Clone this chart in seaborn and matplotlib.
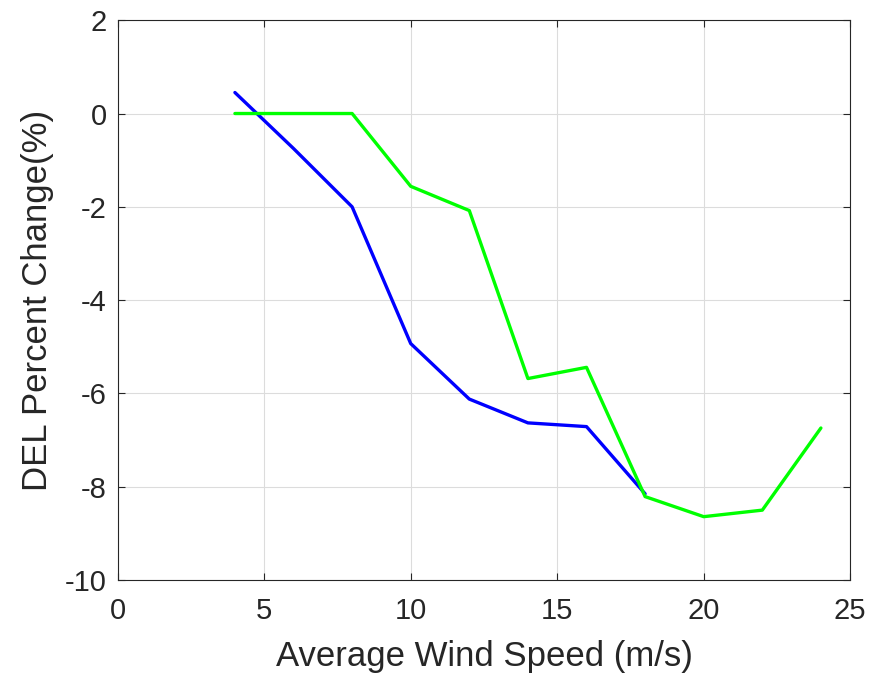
import numpy as np
import pandas as pd
import seaborn as sns
from matplotlib import pyplot as plt

sns.set_style("white")
plt.rcParams['font.family'] = ['Liberation Sans', 'DejaVu Sans']
plt.rcParams['axes.unicode_minus'] = False

# wind speed (m/s) and DEL percent change (%)
speed_blue = [4, 6, 8, 10, 12, 14, 16, 18]
del_blue = [0.45, -0.75, -2.0, -4.93, -6.12, -6.63, -6.71, -8.15]

speed_green = [4, 6, 8, 10, 12, 14, 16, 18, 20, 22, 24]
del_green = [0.0, 0.0, 0.0, -1.56, -2.08, -5.68, -5.44, -8.21, -8.64, -8.5, -6.74]

blue = pd.DataFrame({'speed': speed_blue, 'del': del_blue})
green = pd.DataFrame({'speed': speed_green, 'del': del_green})

fig = plt.figure(figsize=(8.72, 6.73), dpi=100)
ax = fig.add_axes([0.135, 0.138, 0.84, 0.832])

sns.lineplot(x='speed', y='del', data=blue, ax=ax, color='#0000ff', lw=2.4)
sns.lineplot(x='speed', y='del', data=green, ax=ax, color='#00ff00', lw=2.4)

ax.set_xlim(0, 25)
ax.set_ylim(-10, 2)
ax.set_xticks(np.arange(0, 26, 5))
ax.set_yticks(np.arange(-10, 3, 2))
ax.grid(True, color='#dcdcdc', lw=0.8)
ax.set_axisbelow(True)
ax.tick_params(direction='in', length=5, width=0.8, labelsize=21, colors='#262626',
               top=True, right=True, bottom=True, left=True, labeltop=False, labelright=False)
ax.tick_params(axis='x', pad=12)
ax.tick_params(axis='y', pad=8)
for s in ax.spines.values():
    s.set_color('#262626')
    s.set_linewidth(0.8)

ax.set_xlabel('Average Wind Speed (m/s)', fontsize=25, color='#262626', labelpad=11)
ax.set_ylabel('DEL Percent Change(%)', fontsize=25, color='#262626', labelpad=8)

plt.savefig('out.png', dpi=100)
